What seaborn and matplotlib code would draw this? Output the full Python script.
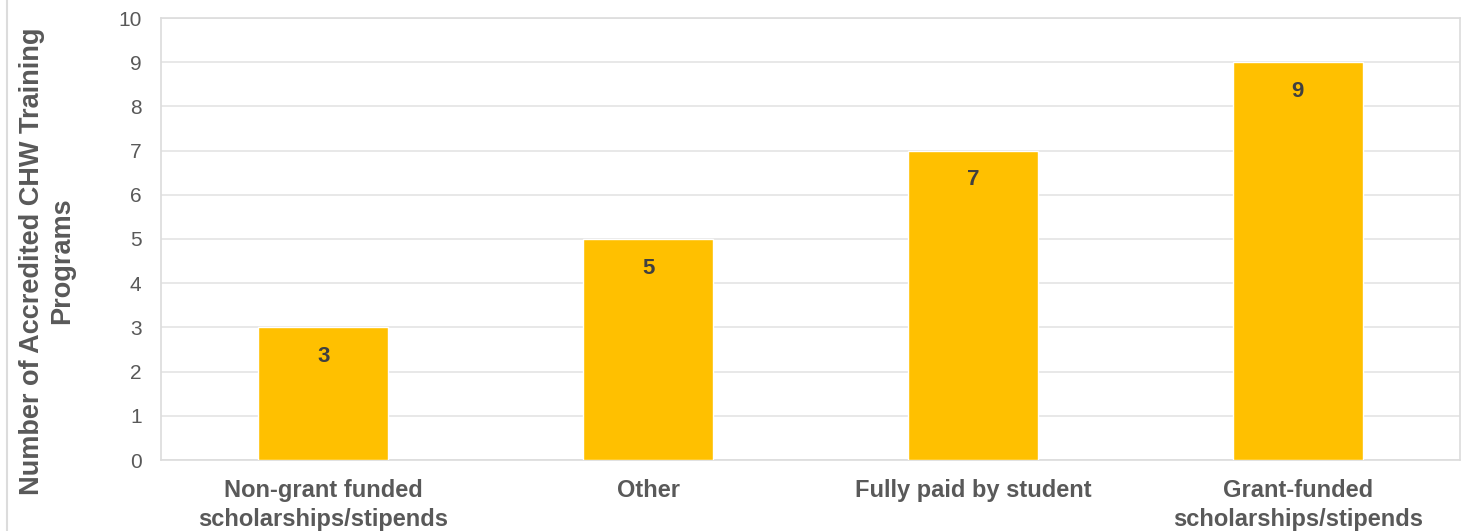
import matplotlib
matplotlib.use("Agg")
import matplotlib.pyplot as plt
from matplotlib.lines import Line2D
import seaborn as sns
import pandas as pd

categories = [
    "Non-grant funded\nscholarships/stipends",
    "Other",
    "Fully paid by student",
    "Grant-funded\nscholarships/stipends",
]
program_counts = [3, 5, 7, 9]
y_ticks = list(range(0, 11))

df = pd.DataFrame({"category": categories, "count": program_counts})

sns.set_theme(style="white")
plt.rcParams["font.family"] = ["Liberation Sans", "DejaVu Sans"]

fig = plt.figure(figsize=(14.73, 5.31), dpi=100)
ax = fig.add_axes([161 / 1473, (531 - 460) / 531, (1460 - 161) / 1473, (460 - 18) / 531])

sns.barplot(data=df, x="category", y="count", color="#FFC000", saturation=1,
            width=0.4, ax=ax, zorder=3)

ax.set_ylim(0, 10)
ax.set_yticks(y_ticks)
ax.yaxis.grid(True, color="#E4E4E4", linewidth=1.2, zorder=0)
ax.set_axisbelow(True)
for side in ["left", "right", "top", "bottom"]:
    ax.spines[side].set_visible(True)
    ax.spines[side].set_color("#DCDCDC")
    ax.spines[side].set_linewidth(1.2)

ax.tick_params(axis="y", labelsize=15, labelcolor="#595959", length=0, pad=14)
ax.tick_params(axis="x", labelsize=17, labelcolor="#595959", length=0, pad=14)
for lbl in ax.get_xticklabels():
    lbl.set_fontweight("bold")
    lbl.set_linespacing(1.3)

ax.set_xlabel("")
ax.set_ylabel("Number of Accredited CHW Training\nPrograms", fontsize=19.5,
              fontweight="bold", color="#595959", linespacing=1.2)
ax.yaxis.set_label_coords(-0.066, 0.45)

for bar, val in zip(ax.patches, program_counts):
    ax.annotate(str(val), (bar.get_x() + bar.get_width() / 2, bar.get_height()),
                xytext=(0, -29), textcoords="offset pixels",
                ha="center", va="center", fontsize=16, fontweight="bold",
                color="#404040", zorder=4)

fig.add_artist(Line2D([7 / 1473, 7 / 1473], [0, 1], color="#DCDCDC", linewidth=1.5))

fig.savefig("out.png", dpi=100)
